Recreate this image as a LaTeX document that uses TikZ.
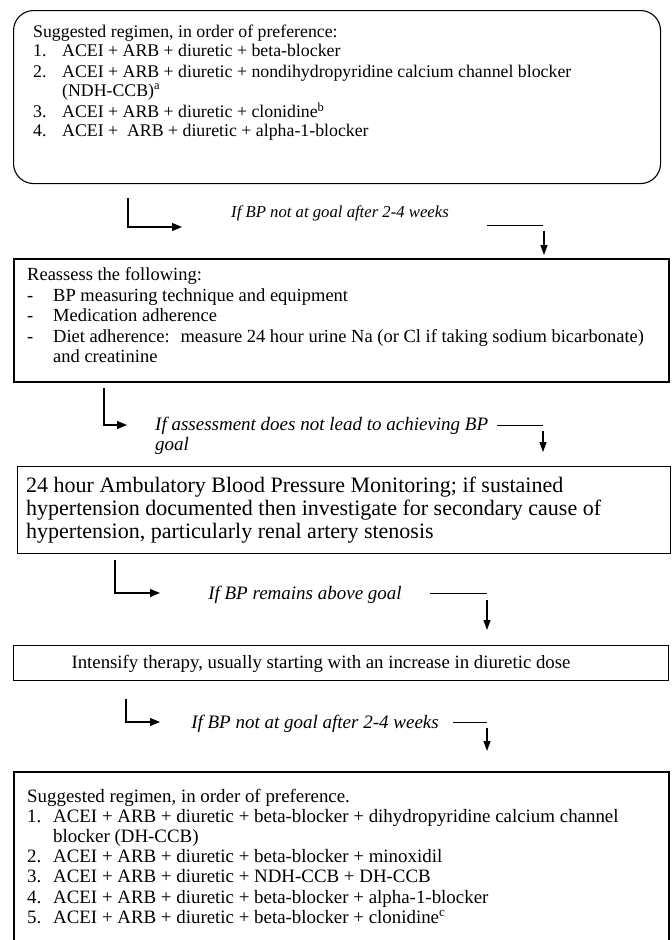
\documentclass[tikz,border=0pt]{standalone}
\usepackage{fontspec}
\setmainfont{Liberation Serif}
\usetikzlibrary{arrows.meta}
\setlength{\lineskiplimit}{-10pt}
\newcommand{\nr}[2]{\makebox[#1][l]{#2}}

\tikzset{
  txtbox/.style={draw, anchor=north west, inner sep=0pt},
  boxtext/.style={anchor=north west, align=left, inner sep=0pt},
  cond/.style={inner sep=0pt, font=\fontsize{19}{20}\selectfont\itshape},
  elbow/.style={line width=1.1pt, -{Triangle[length=10pt,width=8pt]}},
  tailline/.style={line width=1pt},
  drop/.style={line width=1.1pt, -{Triangle[length=10pt,width=7pt]}}
}

\begin{document}
\begin{tikzpicture}[x=1pt,y=-1pt]
\useasboundingbox (0,0) rectangle (672,940);

% boxes
\node[txtbox, rounded corners=20pt, line width=1.1pt, minimum width=647pt, minimum height=173pt] (box1) at (13,10) {};
\node[txtbox, line width=1.8pt, minimum width=655pt, minimum height=123pt] (box2) at (13,258) {};
\node[txtbox, line width=1.3pt, minimum width=653pt, minimum height=87pt] (box3) at (17,466) {};
\node[txtbox, line width=1.3pt, minimum width=655pt, minimum height=35pt] (box4) at (13,645) {};
\node[txtbox, line width=2.2pt, minimum width=655pt, minimum height=178pt] (box5) at (13,771) {};

\node[boxtext, font=\fontsize{17.8}{18.5}\selectfont] (regimen1) at (33,24.8) {Suggested regimen, in order of preference:\\
\nr{29pt}{1.}ACEI + ARB + diuretic + beta-blocker\\[3pt]
\nr{29pt}{2.}ACEI + ARB + diuretic + nondihydropyridine calcium channel blocker\\
\nr{29pt}{}(NDH-CCB)\textsuperscript{a}\\[3pt]
\nr{29pt}{3.}ACEI + ARB + diuretic + clonidine\textsuperscript{b}\\
\nr{29pt}{4.}ACEI + \ ARB + diuretic + alpha-1-blocker};

\node[boxtext, font=\fontsize{18.5}{20.5}\selectfont] (reassess) at (27,267.4) {Reassess the following:\\
\nr{26pt}{-}BP measuring technique and equipment\\
\nr{26pt}{-}Medication adherence\\
\nr{26pt}{-}Diet adherence: \ measure 24 hour urine Na (or Cl if taking sodium bicarbonate)\\
\nr{26pt}{}and creatinine};

\node[boxtext, font=\fontsize{22}{23}\selectfont] (abpm) at (26,477) {24 hour Ambulatory Blood Pressure Monitoring; if sustained\\
hypertension documented then investigate for secondary cause of\\
hypertension, particularly renal artery stenosis};

\node[anchor=base, inner sep=0pt, font=\fontsize{18.8}{20}\selectfont] (intensify) at (321,668) {Intensify therapy, usually starting with an increase in diuretic dose};

\node[boxtext, font=\fontsize{18.9}{20.2}\selectfont] (regimen2) at (27,788.5) {Suggested regimen, in order of preference.\\
\nr{26pt}{1.}ACEI + ARB + diuretic + beta-blocker + dihydropyridine calcium channel\\
\nr{26pt}{}blocker (DH-CCB)\\
\nr{26pt}{2.}ACEI + ARB + diuretic + beta-blocker + minoxidil\\
\nr{26pt}{3.}ACEI + ARB + diuretic + NDH-CCB + DH-CCB\\
\nr{26pt}{4.}ACEI + ARB + diuretic + beta-blocker + alpha-1-blocker\\
\nr{26pt}{5.}ACEI + ARB + diuretic + beta-blocker + clonidine\textsuperscript{c}};

% conditions
\node[cond, anchor=base, font=\fontsize{16.7}{18}\selectfont\itshape] (cond1) at (340,217) {If BP not at goal after 2-4 weeks};
\node[cond, anchor=north west, align=left] (cond2) at (155,417) {If assessment does not lead to achieving BP\\goal};
\node[cond, anchor=base] (cond3) at (305,599) {If BP remains above goal};
\node[cond, anchor=base] (cond4) at (315,728) {If BP not at goal after 2-4 weeks};

% connectors
\coordinate (e1) at (128,198); \coordinate (e1t) at (182,227);
\coordinate (t1) at (487,225); \coordinate (d1) at (544,231);
\draw[elbow] (e1) |- (e1t);
\draw[tailline] (t1) -- ++(56,0);
\draw[drop, shorten >=3pt] (d1) -- (d1 |- box2.north);

\coordinate (e2) at (104,388); \coordinate (e2t) at (127,425);
\coordinate (t2) at (497,425); \coordinate (d2) at (543,431);
\draw[elbow] (e2) |- (e2t);
\draw[tailline] (t2) -- ++(46,0);
\draw[drop, shorten >=14pt] (d2) -- (d2 |- box3.north);

\coordinate (e3) at (115,560); \coordinate (e3t) at (160,593);
\coordinate (t3) at (430,593); \coordinate (d3) at (487,600);
\draw[elbow] (e3) |- (e3t);
\draw[tailline] (t3) -- ++(57,0);
\draw[drop, shorten >=15pt] (d3) -- (d3 |- box4.north);

\coordinate (e4) at (126,699); \coordinate (e4t) at (160,722);
\coordinate (t4) at (453,722); \coordinate (d4) at (487,728);
\draw[elbow] (e4) |- (e4t);
\draw[tailline] (t4) -- ++(34,0);
\draw[drop, shorten >=20pt] (d4) -- (d4 |- box5.north);
\end{tikzpicture}
\end{document}
